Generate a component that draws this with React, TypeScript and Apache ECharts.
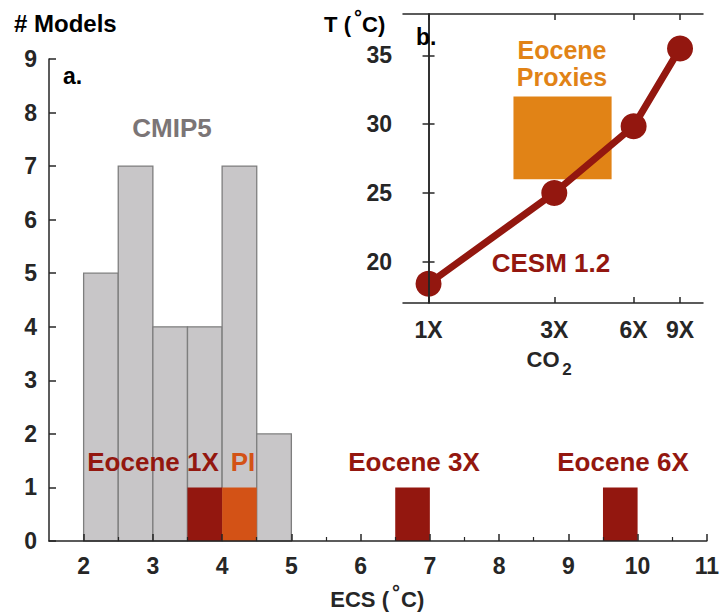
import React, { useEffect, useRef } from "react";
import * as echarts from "echarts";

// ---- Panel a: histogram of ECS ----
const binWidth = 0.5;
const cmipBinStarts = [2, 2.5, 3, 3.5, 4, 4.5];
const cmipCounts = [5, 7, 4, 4, 7, 2];
const eoceneBinStarts = [3.5, 6.5, 9.5];
const eoceneCounts = [1, 1, 1];
const piBinStarts = [4];
const piCounts = [1];
const ecsTicks = [2, 3, 4, 5, 6, 7, 8, 9, 10, 11];
const ecsMinorTicks = [2.5, 3.5, 4.5, 5.5, 6.5, 7.5, 8.5, 9.5, 10.5];

// ---- Panel b: CESM 1.2 temperature vs CO2 ----
const co2Levels = [1, 3, 6, 9];
const cesmTemps = [18.4, 25.0, 29.85, 35.5];
const proxyCO2Range = [2.1, 4.95];
const proxyTempRange = [26, 32];
const tempTicks = [20, 25, 30, 35];

const FONT = "'Liberation Sans', Arial, Helvetica, sans-serif";
const AXIS = "#262626";
const GREY_FILL = "#c8c6c8";
const GREY_EDGE = "#7e7e7e";
const DARK_RED = "#93170f";
const PI_ORANGE = "#d35216";
const PROXY_ORANGE = "#e18316";
const CMIP_TEXT = "#7b7576";

function histSeries(starts: number[], counts: number[], fill: string, stroke: string | null, z: number) {
  return {
    type: "custom",
    xAxisIndex: 0,
    yAxisIndex: 0,
    z,
    data: starts.map((s, i) => [s, counts[i]]),
    renderItem: (_params: any, api: any) => {
      const x0 = api.value(0);
      const n = api.value(1);
      const p0 = api.coord([x0, n]);
      const p1 = api.coord([x0 + binWidth, 0]);
      return {
        type: "rect",
        shape: { x: p0[0], y: p0[1], width: p1[0] - p0[0], height: p1[1] - p0[1] },
        style: stroke ? { fill, stroke, lineWidth: 1.3 } : { fill },
      };
    },
  };
}

function txt(text: string, x: number, y: number, size: number, color: string, align = "center") {
  return {
    type: "text",
    x,
    y,
    z: 100,
    style: {
      text,
      fill: color,
      font: `bold ${size}px ${FONT}`,
      align,
      verticalAlign: "middle",
    },
  };
}

export default function App() {
  const ref = useRef<HTMLDivElement>(null);
  useEffect(() => {
    if (!ref.current) return;
    const chart = echarts.init(ref.current, null, { renderer: "svg" });
    const lnMin = Math.log(0.8);
    const lnMax = Math.log(11);
    const lnTicks = co2Levels.map((c) => Math.log(c));
    const labelStyle = { fontSize: 23, fontWeight: "bold", color: AXIS, fontFamily: FONT };

    const option: any = {
      animation: false,
      backgroundColor: "#fff",
      grid: [
        { left: 49, top: 59, width: 661, height: 482, containLabel: false },
        { left: 403, top: 14, width: 300, height: 289, show: true, backgroundColor: "#fff", borderWidth: 0, z: 10 },
      ],
      xAxis: [
        {
          type: "value", gridIndex: 0, min: 1.5, max: 11,
          axisLine: { show: true, lineStyle: { color: AXIS, width: 1.5 } },
          axisTick: { show: true, inside: true, length: 7, customValues: ecsTicks, lineStyle: { color: AXIS, width: 1.5 } },
          axisLabel: { ...labelStyle, margin: 13, customValues: ecsTicks },
          splitLine: { show: false },
          z: 5,
        },
        {
          type: "value", gridIndex: 0, min: 1.5, max: 11, position: "bottom",
          axisLine: { show: false },
          axisTick: { show: true, inside: true, length: 4, customValues: ecsMinorTicks, lineStyle: { color: AXIS, width: 1.2 } },
          axisLabel: { show: false },
          splitLine: { show: false },
          z: 5,
        },
        {
          type: "value", gridIndex: 1, min: lnMin, max: lnMax, position: "bottom",
          axisLine: { show: true, lineStyle: { color: AXIS, width: 1.5 } },
          axisTick: { show: true, inside: true, length: 6, customValues: lnTicks, lineStyle: { color: AXIS, width: 1.5 } },
          axisLabel: {
            ...labelStyle, margin: 15, customValues: lnTicks,
            formatter: (v: number) => Math.round(Math.exp(v)) + "X",
          },
          splitLine: { show: false },
          z: 20,
        },
        {
          type: "value", gridIndex: 1, min: lnMin, max: lnMax, position: "top",
          axisLine: { show: true, lineStyle: { color: AXIS, width: 1.5 } },
          axisTick: { show: true, inside: true, length: 6, customValues: lnTicks, lineStyle: { color: AXIS, width: 1.5 } },
          axisLabel: { show: false },
          splitLine: { show: false },
          z: 20,
        },
      ],
      yAxis: [
        {
          type: "value", gridIndex: 0, min: 0, max: 9, interval: 1,
          axisLine: { show: true, lineStyle: { color: AXIS, width: 1.5 } },
          axisTick: { show: true, inside: true, length: 7, lineStyle: { color: AXIS, width: 1.5 } },
          axisLabel: { ...labelStyle, margin: 12 },
          splitLine: { show: false },
          z: 5,
        },
        {
          type: "value", gridIndex: 1, min: 17, max: 38, position: "left",
          axisLine: { show: true, lineStyle: { color: AXIS, width: 1.5 } },
          axisTick: { show: true, inside: true, length: 6, customValues: tempTicks, lineStyle: { color: AXIS, width: 1.5 } },
          axisLabel: { ...labelStyle, margin: 11, customValues: tempTicks },
          splitLine: { show: false },
          z: 20,
        },
        {
          type: "value", gridIndex: 1, min: 17, max: 38, position: "right",
          axisLine: { show: true, lineStyle: { color: AXIS, width: 1.5 } },
          axisTick: { show: true, inside: true, length: 6, customValues: tempTicks, lineStyle: { color: AXIS, width: 1.5 } },
          axisLabel: { show: false },
          splitLine: { show: false },
          z: 20,
        },
      ],
      series: [
        histSeries(cmipBinStarts, cmipCounts, GREY_FILL, GREY_EDGE, 2),
        histSeries(eoceneBinStarts, eoceneCounts, DARK_RED, null, 3),
        histSeries(piBinStarts, piCounts, PI_ORANGE, null, 3),
        {
          type: "custom",
          xAxisIndex: 2,
          yAxisIndex: 1,
          z: 12,
          data: [[Math.log(proxyCO2Range[0]), proxyTempRange[1], Math.log(proxyCO2Range[1]), proxyTempRange[0]]],
          renderItem: (_p: any, api: any) => {
            const a = api.coord([api.value(0), api.value(1)]);
            const b = api.coord([api.value(2), api.value(3)]);
            return {
              type: "rect",
              shape: { x: a[0], y: a[1], width: b[0] - a[0], height: b[1] - a[1] },
              style: { fill: PROXY_ORANGE },
            };
          },
        },
        {
          type: "line",
          xAxisIndex: 2,
          yAxisIndex: 1,
          z: 14,
          data: co2Levels.map((c, i) => [Math.log(c), cesmTemps[i]]),
          symbol: "circle",
          symbolSize: 26,
          lineStyle: { color: DARK_RED, width: 7 },
          itemStyle: { color: DARK_RED },
        },
      ],
      graphic: [
        txt("# Models", 14, 23, 24, "#000", "left"),
        txt("a.", 63, 76, 23, "#000", "left"),
        txt("CMIP5", 172, 128, 26, CMIP_TEXT),
        txt("Eocene 1X", 153, 462, 26, DARK_RED),
        txt("PI", 243, 462, 26, PI_ORANGE),
        txt("Eocene 3X", 414, 462, 26, DARK_RED),
        txt("Eocene 6X", 623, 462, 26, DARK_RED),
        // ECS (°C) with raised degree ring
        txt("ECS (", 389, 599, 22, AXIS, "right"),
        txt("°", 396, 592, 20, AXIS),
        txt("C)", 401, 599, 22, AXIS, "left"),
        // T (°C) with raised degree ring
        txt("T (", 351, 24, 22, "#000", "right"),
        txt("°", 358, 17, 20, "#000"),
        txt("C)", 362, 24, 22, "#000", "left"),
        txt("b.", 416, 37, 23, "#000", "left"),
        txt("Eocene", 562, 49.5, 25, PROXY_ORANGE),
        txt("Proxies", 562, 76.5, 25, PROXY_ORANGE),
        txt("CESM 1.2", 551, 263, 26, DARK_RED),
        txt("CO", 543, 359, 22, AXIS),
        txt("2", 567, 369, 17, AXIS),
      ],
    };
    chart.setOption(option);
    return () => chart.dispose();
  }, []);
  return <div ref={ref} style={{ position: "absolute", left: 0, top: 0, width: 722, height: 615 }} />;
}
